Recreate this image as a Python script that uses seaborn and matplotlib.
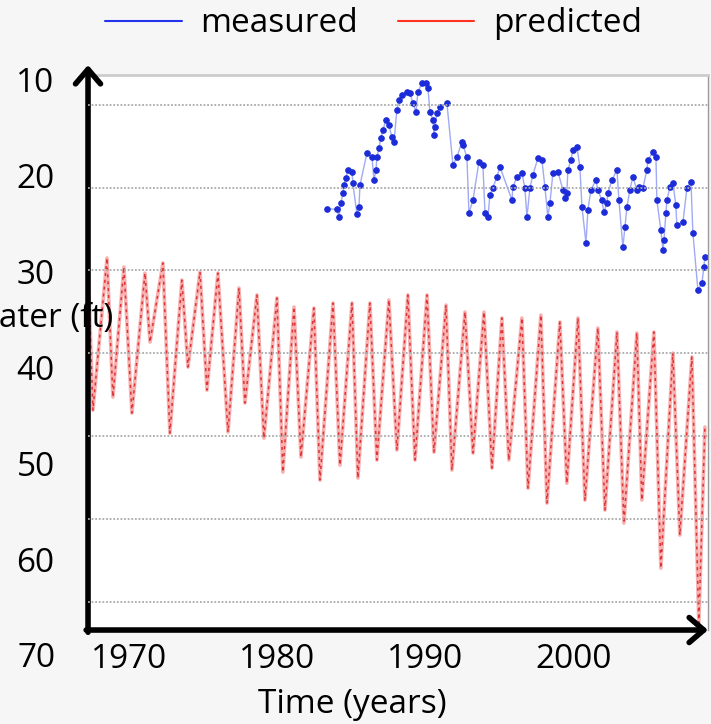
import numpy as np
import pandas as pd
import seaborn as sns
import matplotlib.pyplot as plt
import matplotlib.transforms as mtransforms
from matplotlib.lines import Line2D
from matplotlib.ticker import FixedLocator

# measured water depth (ft) vs time
measured_year = [1983.35, 1984.03, 1984.16, 1984.30, 1984.43, 1984.50, 1984.63, 1984.77, 1985.04, 1985.10,
                 1985.37, 1985.51, 1985.58, 1986.05, 1986.39, 1986.52, 1986.66, 1986.72, 1986.86, 1986.99,
                 1987.13, 1987.33, 1987.53, 1987.73, 1987.87, 1988.07, 1988.21, 1988.41, 1988.75, 1988.95,
                 1989.15, 1989.35, 1989.49, 1989.76, 1990.03, 1990.16, 1990.30, 1990.50, 1990.57, 1990.63,
                 1990.77, 1990.97, 1991.44, 1991.85, 1992.12, 1992.45, 1992.52, 1992.79, 1992.93, 1993.20,
                 1993.60, 1993.87, 1994.01, 1994.21, 1994.34, 1994.54, 1994.81, 1995.02, 1995.83, 1995.89,
                 1996.16, 1996.50, 1996.70, 1996.84, 1997.04, 1997.24, 1997.58, 1997.85, 1998.05, 1998.25,
                 1998.39, 1998.59, 1998.93, 1999.27, 1999.40, 1999.53, 1999.60, 1999.80, 1999.94, 2000.21,
                 2000.41, 2000.55, 2000.82, 2000.95, 2001.15, 2001.49, 2001.62, 2001.89, 2002.03, 2002.23,
                 2002.30, 2002.57, 2002.91, 2003.04, 2003.31, 2003.45, 2003.58, 2003.78, 2003.98, 2004.25,
                 2004.39, 2004.66, 2004.93, 2005.00, 2005.33, 2005.54, 2005.60, 2005.87, 2006.01, 2006.08,
                 2006.21, 2006.28, 2006.48, 2006.68, 2006.88, 2006.95, 2007.36, 2007.63, 2007.90, 2008.03,
                 2008.37, 2008.64, 2008.77, 2008.84]
measured_depth = [23.47, 23.47, 24.30, 22.84, 21.79, 20.96, 20.23, 19.39, 19.60, 20.75,
                  23.99, 23.26, 20.96, 17.62, 18.04, 20.44, 19.39, 18.04, 17.10, 16.05,
                  15.22, 14.18, 14.70, 15.95, 16.47, 13.13, 12.09, 11.57, 11.25, 11.36,
                  12.40, 13.34, 11.25, 10.31, 10.31, 10.84, 13.34, 14.18, 15.74, 14.91,
                  13.44, 12.82, 12.40, 18.87, 18.04, 16.47, 16.78, 18.04, 23.88, 22.53,
                  18.56, 18.87, 23.88, 24.30, 22.00, 21.27, 20.12, 19.08, 22.53, 21.17,
                  20.12, 19.71, 21.27, 24.30, 21.27, 19.92, 18.14, 18.35, 21.17, 24.30,
                  22.84, 19.71, 19.60, 21.48, 22.32, 21.79, 19.39, 18.35, 17.31, 16.99,
                  19.08, 23.26, 27.01, 23.57, 21.48, 20.44, 21.48, 22.53, 23.78, 22.84,
                  21.79, 20.44, 19.39, 22.53, 27.43, 25.34, 23.26, 21.48, 20.12, 21.48,
                  21.17, 21.27, 19.39, 18.35, 17.52, 18.04, 22.53, 25.66, 27.74, 26.70,
                  23.88, 22.53, 21.17, 20.75, 23.05, 25.14, 24.82, 21.27, 20.65, 25.97,
                  31.92, 31.19, 29.52, 28.48]

# predicted water depth (ft): seasonal highs and lows
predicted_year = [1967.24, 1967.57, 1968.52, 1968.92, 1969.66, 1970.20, 1971.08, 1971.42, 1972.29, 1972.76,
                  1973.57, 1973.98, 1974.79, 1975.26, 1976.00, 1976.68, 1977.42, 1977.82, 1978.63, 1979.10,
                  1979.98, 1980.38, 1981.13, 1981.60, 1982.47, 1982.88, 1983.76, 1984.23, 1985.04, 1985.44,
                  1986.25, 1986.72, 1987.53, 1988.07, 1988.81, 1989.29, 1990.10, 1990.57, 1991.38, 1991.78,
                  1992.66, 1993.20, 1993.94, 1994.48, 1995.15, 1995.62, 1996.50, 1996.91, 1997.78, 1998.19,
                  1999.06, 1999.53, 2000.28, 2000.75, 2001.62, 2002.10, 2002.91, 2003.38, 2004.25, 2004.59,
                  2005.40, 2005.87, 2006.68, 2007.15, 2007.96, 2008.43, 2008.84]
predicted_depth = [29.10, 44.45, 28.58, 43.09, 29.52, 44.76, 30.15, 37.35, 29.10, 46.85,
                   30.88, 39.96, 30.04, 42.36, 30.15, 46.74, 31.71, 43.71, 32.44, 47.37,
                   32.75, 50.92, 33.69, 49.35, 33.80, 51.75, 33.28, 50.19, 33.28, 51.54,
                   33.28, 49.66, 32.96, 48.62, 32.44, 49.66, 32.44, 48.83, 33.49, 50.71,
                   34.22, 48.93, 34.22, 50.50, 34.84, 49.66, 34.84, 52.59, 34.53, 54.15,
                   35.26, 52.07, 34.84, 53.84, 35.89, 54.88, 36.30, 56.24, 36.41, 53.84,
                   36.30, 60.94, 38.50, 57.49, 38.91, 66.68, 46.22]

year_ticks = [1970, 1980, 1990, 2000]
depth_ticks = [10, 20, 30, 40, 50, 60]

sns.set_style('white')
plt.rcParams['font.family'] = ['Open Sans', 'DejaVu Sans']
plt.rcParams.update({'text.color': 'black', 'axes.labelcolor': 'black',
                     'xtick.color': 'black', 'ytick.color': 'black'})

fig = plt.figure(figsize=(7.11, 7.24), dpi=100, facecolor='#f6f6f6')
ax = fig.add_axes([0.1238, 0.1298, 0.8720, 0.7666])
ax.set_facecolor('white')

meas = pd.DataFrame({'year': measured_year, 'depth': measured_depth})
pred = pd.DataFrame({'year': predicted_year, 'depth': predicted_depth})

sns.lineplot(data=pred, x='year', y='depth', estimator=None, color='#f8b0b0', lw=2.6, ax=ax)
sns.lineplot(data=pred, x='year', y='depth', estimator=None, color='#dd3535', lw=1.1,
             linestyle=(0, (2, 2.5)), ax=ax)
sns.lineplot(data=meas, x='year', y='depth', estimator=None, color='#a0aaf5', lw=1.0,
             marker='o', markersize=4, markerfacecolor='#1c2cd8', markeredgecolor='#1c2cd8', ax=ax)

ax.set_xlim(1967.24, 2009.05)
ax.set_ylim(67.4, 9.48)
ax.set_xticks(year_ticks)
ax.set_yticks(depth_ticks)
ax.tick_params(axis='both', which='both', length=0, labelsize=24)
ax.tick_params(axis='y', pad=24)
ax.tick_params(axis='x', pad=9)

# dotted grid lines of the original chart
ax.yaxis.set_minor_locator(FixedLocator(np.arange(12.6, 65, 8.64)))
ax.grid(False)
ax.grid(which='minor', axis='y', color='#aaaaaa', ls=(0, (1, 1)), lw=1.3)

for s in ['left', 'bottom']:
    ax.spines[s].set_visible(False)
ax.spines['top'].set_color('#cccccc')
ax.spines['top'].set_linewidth(2)
ax.spines['right'].set_color('#999999')
ax.spines['right'].set_linestyle((0, (1, 1)))
ax.spines['right'].set_linewidth(1)

# axis arrows
arrow = dict(arrowstyle='->,head_length=0.35,head_width=0.3', lw=4, color='black',
             mutation_scale=30, shrinkA=0, shrinkB=0)
ax.annotate('', xy=(0, 1.018), xytext=(0, -0.004), xycoords='axes fraction', arrowprops=arrow)
ax.annotate('', xy=(1.0, 0), xytext=(-0.003, 0), xycoords='axes fraction', arrowprops=arrow)

trans = mtransforms.blended_transform_factory(ax.transAxes, ax.transData)
ax.text(-0.052, 70.4, '70', transform=trans, ha='right', va='center', fontsize=24, clip_on=False)

ax.set_ylabel('Water (ft)', rotation=0, ha='right', va='center', fontsize=24)
ax.yaxis.set_label_coords(0.04, 0.562)
ax.yaxis.set_zorder(5)
ax.set_xlabel('Time (years)', fontsize=24)
ax.xaxis.set_label_coords(0.426, -0.134)
ax.xaxis.label.set_va('center')

handles = [Line2D([], [], color='#2233ee', lw=1.5), Line2D([], [], color='#ff3322', lw=1.5)]
fig.legend(handles, ['measured', 'predicted'], loc='center', bbox_to_anchor=(0.525, 0.967),
           ncol=2, frameon=False, fontsize=24, handlelength=2.3, handletextpad=0.55,
           columnspacing=1.2)

fig.savefig('out.png', dpi=100, facecolor=fig.get_facecolor())
